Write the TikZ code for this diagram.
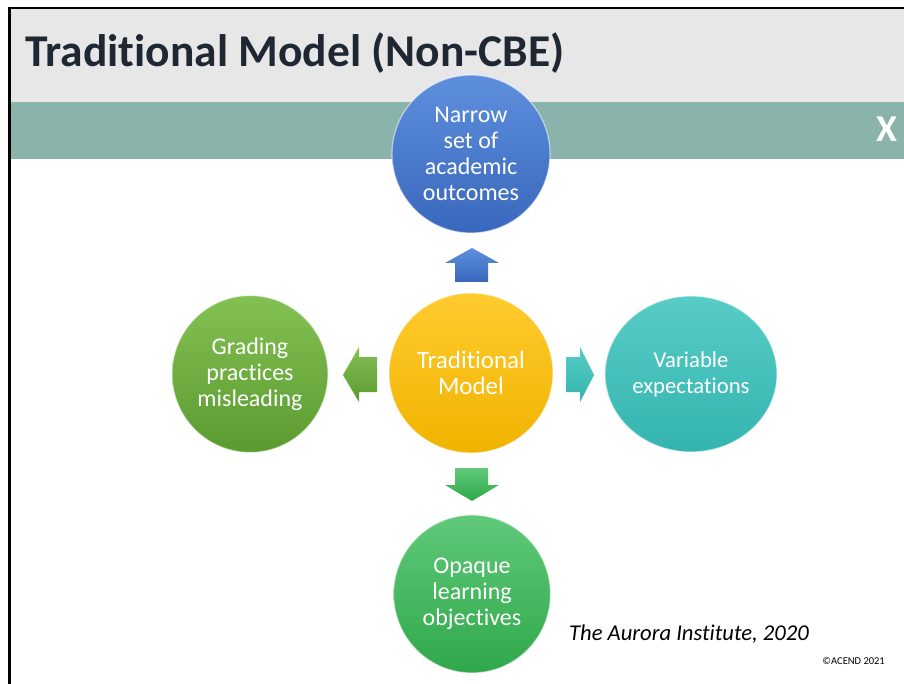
\documentclass[tikz,border=0pt]{standalone}
\usepackage{fontspec}
\setmainfont{Carlito}[Ligatures=NoCommon]
\usetikzlibrary{shapes.geometric}
\definecolor{titlegray}{HTML}{E7E7E7}
\definecolor{bandteal}{HTML}{8AB3AC}
\definecolor{titleink}{HTML}{1F2733}
\definecolor{blueT}{HTML}{5E8FDC}
\definecolor{blueB}{HTML}{3967BD}
\definecolor{yelT}{HTML}{FFCB2E}
\definecolor{yelB}{HTML}{F0B300}
\definecolor{lgrT}{HTML}{84C153}
\definecolor{lgrB}{HTML}{5A9A2F}
\definecolor{tealT}{HTML}{58CCC6}
\definecolor{tealB}{HTML}{34B4AF}
\definecolor{bgrT}{HTML}{60C97A}
\definecolor{bgrB}{HTML}{2FA84A}
\tikzset{
  bubble/.style={ellipse, inner sep=0pt, align=center, text=white,
    font=\fontsize{24}{26}\selectfont, draw=white, draw opacity=0.55, line width=1.2pt},
  blockarrow/.style={draw=none}
}
\begin{document}
\begin{tikzpicture}[x=1pt,y=-1pt]
\useasboundingbox (0,0) rectangle (904,684);
\fill[white] (0,0) rectangle (904,684);
% title band and teal band
\fill[titlegray] (10,9) rectangle (904,102);
\fill[bandteal] (10,102) rectangle (904,159);
\draw[black, line width=2.2pt] (9.5,684) -- (9.5,8) -- (904,8);
\node[anchor=base west, inner sep=0pt, text=titleink, font=\fontsize{45.5}{50}\selectfont\bfseries] (title) at (25,67) {Traditional Model (Non-CBE)};
\node[anchor=base, inner sep=0pt, text=white, font=\fontsize{38}{40}\selectfont\bfseries] (close) at (886.5,142) {X};
% bubbles
\node[bubble, minimum width=158pt, minimum height=158pt, top color=blueT, bottom color=blueB] (top) at (471,154) {Narrow\\set of\\academic\\outcomes};
\node[bubble, font=\fontsize{25}{26}\selectfont, minimum width=164pt, minimum height=160pt, top color=yelT, bottom color=yelB] (mid) at (471,373) {Traditional\\Model};
\node[bubble, minimum width=156pt, minimum height=157pt, top color=lgrT, bottom color=lgrB] (left) at (250,374) {Grading\\practices\\misleading};
\node[bubble, font=\fontsize{22.7}{26}\selectfont, minimum width=172pt, minimum height=156pt, top color=tealT, bottom color=tealB] (right) at (691,374) {Variable\\expectations};
\node[bubble, minimum width=157pt, minimum height=158pt, top color=bgrT, bottom color=bgrB] (bottom) at (472,594) {Opaque\\learning\\objectives};
% block arrows
\shade[blockarrow, top color=blueT, bottom color=blueB] (445,263) -- (472,248) -- (499,263) -- (488,263) -- (488,282) -- (455,282) -- (455,263) -- cycle;
\shade[blockarrow, top color=bgrT, bottom color=bgrB] (455,468) -- (488,468) -- (488,485) -- (499,485) -- (472,501) -- (445,485) -- (455,485) -- cycle;
\shade[blockarrow, top color=lgrT, bottom color=lgrB] (343,375) -- (359,347) -- (359,357) -- (377,357) -- (377,392) -- (359,392) -- (359,402) -- cycle;
\shade[blockarrow, top color=tealT, bottom color=tealB] (594,375) -- (580,347) -- (580,357) -- (566,357) -- (566,392) -- (580,392) -- (580,402) -- cycle;
% credits
\node[anchor=base west, inner sep=0pt, font=\fontsize{22.6}{26}\selectfont\itshape] (src) at (569,640) {The Aurora Institute, 2020};
\node[anchor=base east, inner sep=0pt, font=\fontsize{10.5}{12}\selectfont] (copy) at (885,664) {©ACEND 2021};
\end{tikzpicture}
\end{document}
